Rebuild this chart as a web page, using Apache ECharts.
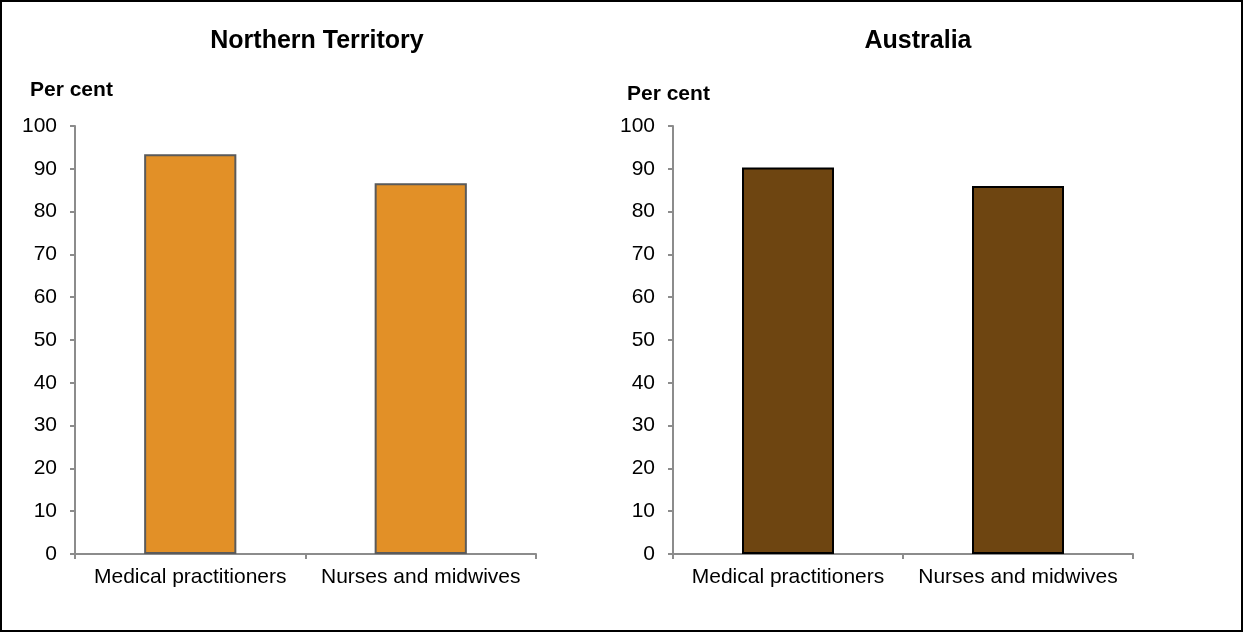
<!DOCTYPE html>
<html><head><meta charset="utf-8">
<script src="https://cdn.jsdelivr.net/npm/echarts@6/dist/echarts.min.js"></script>
<style>html,body{margin:0;padding:0;background:#fff}#c{width:1244px;height:633px}</style>
</head><body><div id="c"></div>
<script>
const categories = ['Medical practitioners', 'Nurses and midwives'];
const ntValues = [93.4, 86.6];
const ausValues = [90.3, 86.0];
const panelTitles = ['Northern Territory', 'Australia'];
const yAxisTitle = 'Per cent';
const yTicks = [0, 10, 20, 30, 40, 50, 60, 70, 80, 90, 100];

const FONT = '"Liberation Sans", Arial, sans-serif';
const chart = echarts.init(document.getElementById('c'), null, {renderer: 'canvas'});
const axisGray = '#8c8c8c';

function xAxis(i) {
  return {
    type: 'category', gridIndex: i, data: categories,
    axisLine: {lineStyle: {color: axisGray, width: 2}},
    axisTick: {show: true, length: 5, lineStyle: {color: axisGray, width: 2}},
    axisLabel: {color: '#000', fontSize: 21, fontFamily: FONT, margin: 13, interval: 0, hideOverlap: false}
  };
}
function yAxis(i) {
  return {
    type: 'value', gridIndex: i, min: yTicks[0], max: yTicks[yTicks.length - 1], interval: 10,
    axisLine: {show: true, lineStyle: {color: axisGray, width: 2}},
    axisTick: {show: true, length: 5, lineStyle: {color: axisGray, width: 2}},
    splitLine: {show: false},
    axisLabel: {color: '#000', fontSize: 21, fontFamily: FONT, margin: 18}
  };
}
const titleStyle = {fontSize: 25, fontWeight: 'bold', color: '#000', fontFamily: FONT};
const nameStyle = {fontSize: 21, fontWeight: 'bold', color: '#000', fontFamily: FONT};

chart.setOption({
  animation: false,
  backgroundColor: '#fff',
  title: [
    {text: panelTitles[0], left: 317, top: 29, textAlign: 'center', textStyle: titleStyle, padding: 0},
    {text: panelTitles[1], left: 918, top: 29, textAlign: 'center', textStyle: titleStyle, padding: 0},
    {text: yAxisTitle, left: 30, top: 80, textStyle: nameStyle, padding: 0},
    {text: yAxisTitle, left: 627, top: 84, textStyle: nameStyle, padding: 0}
  ],
  grid: [
    {left: 75, right: 708, top: 126, bottom: 79, containLabel: false},
    {left: 673, right: 111, top: 126, bottom: 79, containLabel: false}
  ],
  xAxis: [xAxis(0), xAxis(1)],
  yAxis: [yAxis(0), yAxis(1)],
  series: [
    {type: 'bar', xAxisIndex: 0, yAxisIndex: 0, data: ntValues, barWidth: '40%',
     itemStyle: {color: '#E29027', borderColor: '#5a5a5a', borderWidth: 2}},
    {type: 'bar', xAxisIndex: 1, yAxisIndex: 1, data: ausValues, barWidth: '40%',
     itemStyle: {color: '#6E4511', borderColor: '#000', borderWidth: 2}}
  ],
  graphic: [
    {type: 'rect', shape: {x: 1, y: 1, width: 1241, height: 630}, style: {fill: 'none', stroke: '#000', lineWidth: 2}, silent: true}
  ]
});
</script></body></html>
